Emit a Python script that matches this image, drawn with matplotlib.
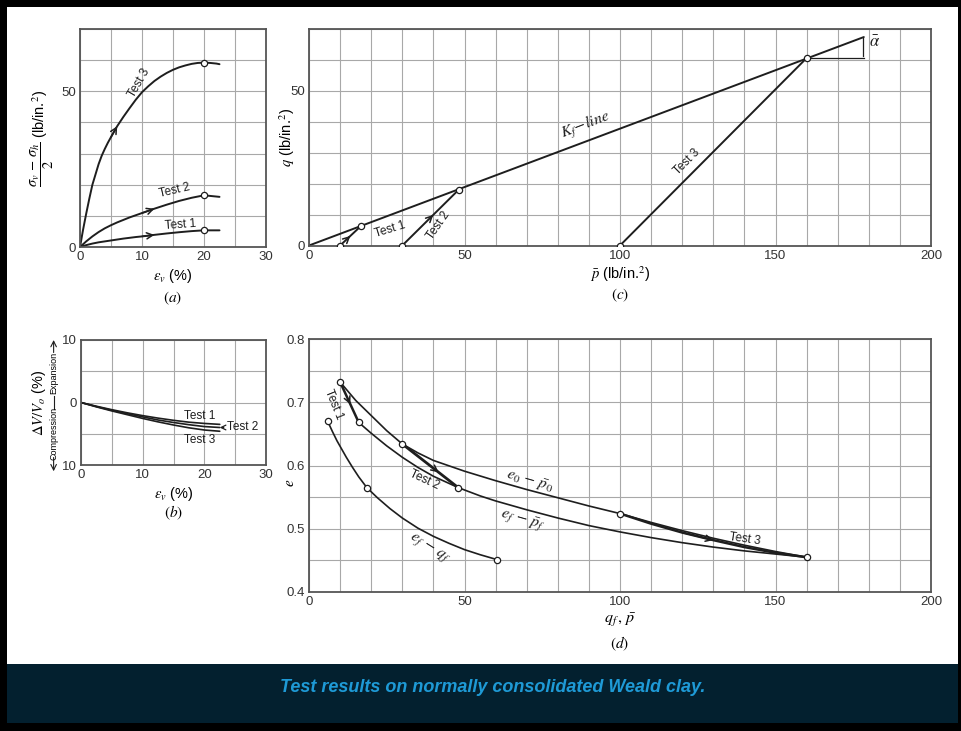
import matplotlib
matplotlib.use('Agg')
import matplotlib.pyplot as plt
from matplotlib.patches import Rectangle

plt.rcParams['font.family'] = ['Liberation Sans', 'DejaVu Sans']
plt.rcParams['mathtext.fontset'] = 'stix'

W, H = 961, 731
INK = '#1e1e1e'
GRID = '#a8a8a8'
FRAME = '#555555'

# ---- (a) stress vs strain
strain_a = [0, 1, 2, 3, 4, 5, 6, 7, 8, 9, 10, 12, 14, 16, 18, 20, 22.5]
stress_t1 = [0, 0.6, 1.1, 1.5, 1.8, 2.1, 2.4, 2.7, 2.95, 3.2, 3.4, 3.9, 4.35, 4.75, 5.1, 5.35, 5.35]
stress_t2 = [0, 1.8, 3.4, 4.8, 6.0, 7.0, 7.9, 8.7, 9.5, 10.2, 10.9, 12.3, 13.6, 14.8, 15.8, 16.6, 16.1]
strain_a3 = [0, 0.5, 1, 1.5, 2, 2.5, 3, 3.5, 4, 4.5, 5, 6, 7, 8, 9, 10, 11, 12, 13, 14,
             15, 16, 17, 18, 19, 20, 21, 22, 22.5]
stress_t3 = [0, 5.6, 10.7, 15.5, 20.0, 23.3, 26.6, 29.3, 31.5, 33.5, 35.3, 38.8, 41.8, 44.6,
             47.3, 49.7, 51.6, 53.3, 54.7, 55.9, 56.9, 57.7, 58.3, 58.8, 59.1, 59.2, 59.1,
             58.9, 58.7]
fail_strain_a = [20, 20, 20]
fail_stress_a = [5.35, 16.6, 59.2]

# ---- (b) volume change vs strain
strain_b = [0, 2.5, 5, 7.5, 10, 12.5, 15, 17.5, 20, 22.5]
dv_t1 = [0, -0.6, -1.15, -1.65, -2.1, -2.5, -2.85, -3.15, -3.35, -3.5]
dv_t2 = [0, -0.65, -1.25, -1.8, -2.3, -2.8, -3.2, -3.55, -3.85, -4.0]
dv_t3 = [0, -0.7, -1.35, -1.95, -2.55, -3.1, -3.6, -4.05, -4.4, -4.6]

# ---- (c) stress paths
kf_p = [0, 178.4]
kf_q = [0, 67.4]
path1_p = [10, 16.6]
path1_q = [0, 6.2]
path2_p = [30, 48.1]
path2_q = [0, 18.0]
path3_p = [100, 160.1]
path3_q = [0, 60.7]

# ---- (d) void ratio
e0_p = [10, 15, 20, 25, 30, 35, 40, 50, 60, 70, 80, 90, 100, 110, 120, 130, 140, 150, 160]
e0_e = [0.732, 0.703, 0.679, 0.655, 0.634, 0.620, 0.608, 0.591, 0.576, 0.562, 0.549,
        0.536, 0.524, 0.510, 0.497, 0.485, 0.474, 0.464, 0.455]
ef_p = [16, 20, 25, 30, 35, 40, 48, 55, 60, 70, 80, 90, 100, 110, 120, 130, 140, 150, 160]
ef_e = [0.668, 0.651, 0.631, 0.613, 0.597, 0.583, 0.565, 0.552, 0.544, 0.530, 0.517,
        0.505, 0.495, 0.486, 0.478, 0.471, 0.465, 0.460, 0.455]
efq_q = [6, 7.5, 9, 10.5, 12, 14, 16, 18.6, 22, 26, 30, 35, 40, 45, 50, 55, 60.6]
efq_e = [0.670, 0.654, 0.639, 0.626, 0.613, 0.597, 0.582, 0.565, 0.549, 0.532, 0.517,
         0.501, 0.488, 0.477, 0.467, 0.459, 0.451]
t1d_p = [10, 16]
t1d_e = [0.732, 0.668]
t2d_p = [30, 48]
t2d_e = [0.634, 0.565]
t3d_p = [100, 110, 120, 130, 140, 150, 160]
t3d_e = [0.524, 0.508, 0.494, 0.482, 0.471, 0.462, 0.455]
pts_d_x = [10, 16, 6, 30, 18.6, 48, 60.6, 100, 160]
pts_d_y = [0.732, 0.668, 0.670, 0.634, 0.565, 0.565, 0.451, 0.524, 0.455]


def px_axes(fig, left, top, right, bottom):
    return fig.add_axes([left / W, 1 - bottom / H, (right - left) / W, (bottom - top) / H])


def style(ax, xlim, ylim, xmaj, ymaj, xgrid, ygrid):
    ax.set_xlim(*xlim)
    ax.set_ylim(*ylim)
    ax.set_xticks(xmaj)
    ax.set_yticks(ymaj)
    ax.set_xticks(xgrid, minor=True)
    ax.set_yticks(ygrid, minor=True)
    ax.grid(which='both', color=GRID, lw=0.8)
    ax.set_axisbelow(True)
    ax.tick_params(which='both', length=0, labelsize=9.5, labelcolor='#333333', pad=3)
    for s in ax.spines.values():
        s.set_color(FRAME)
        s.set_linewidth(1.3)


def curve(ax, x, y, lw=1.4):
    ax.plot(x, y, color=INK, lw=lw, solid_capstyle='round', solid_joinstyle='round')


def dots(ax, x, y):
    ax.plot(x, y, 'o', ms=4.5, mfc='white', mec=INK, mew=0.9, ls='none', zorder=5)


def arrow_at(ax, x, y, i):
    ax.annotate('', xy=(x[i + 1], y[i + 1]), xytext=(x[i], y[i]),
                arrowprops=dict(arrowstyle='->', color=INK, lw=1.1,
                                shrinkA=0, shrinkB=0, mutation_scale=11))


def arrow_frac(ax, x, y, t):
    xa = x[0] + t * (x[1] - x[0])
    ya = y[0] + t * (y[1] - y[0])
    xb = x[0] + (t + 0.05) * (x[1] - x[0])
    yb = y[0] + (t + 0.05) * (y[1] - y[0])
    ax.annotate('', xy=(xb, yb), xytext=(xa, ya),
                arrowprops=dict(arrowstyle='->', color=INK, lw=1.1,
                                shrinkA=0, shrinkB=0, mutation_scale=11))


def lab(ax, x, y, s, rot=0, size=8.5, **kw):
    ax.text(x, y, s, rotation=rot, fontsize=size, color=INK, ha='center', va='center',
            rotation_mode='anchor', **kw)


fig = plt.figure(figsize=(W / 100, H / 100), dpi=100, facecolor='black')
fig.patches.append(Rectangle((7 / W, 1 - 664 / H), 951 / W, 657 / H, zorder=-10,
                             transform=fig.transFigure, facecolor='white', edgecolor='none'))
fig.patches.append(Rectangle((7 / W, 1 - 723 / H), 951 / W, 59 / H, zorder=-10,
                             transform=fig.transFigure, facecolor='#03202f', edgecolor='none'))
fig.text(493 / W, 1 - 688 / H, 'Test results on normally consolidated Weald clay.',
         ha='center', va='center', color='#1e9ad6', fontsize=13,
         fontweight='bold', style='italic')

# ---------- (a)
ax = px_axes(fig, 80, 29, 266, 247)
style(ax, (0, 30), (0, 70), [0, 10, 20, 30], [0, 50],
      range(0, 31, 5), range(0, 71, 10))
curve(ax, strain_a, stress_t1)
curve(ax, strain_a, stress_t2)
curve(ax, strain_a3, stress_t3)
dots(ax, fail_strain_a, fail_stress_a)
arrow_at(ax, strain_a3, stress_t3, strain_a3.index(5))
arrow_at(ax, strain_a, stress_t2, strain_a.index(10))
arrow_at(ax, strain_a, stress_t1, strain_a.index(10))
lab(ax, 9.6, 52.8, 'Test 3', 60)
lab(ax, 15.2, 18.2, 'Test 2', 13)
lab(ax, 16.2, 7.0, 'Test 1', 4)
ax.set_ylabel(r'$\dfrac{\sigma_v\,-\,\sigma_h}{2}$ (lb/in.$^2$)', fontsize=10.5, labelpad=4)
ax.set_xlabel(r'$\epsilon_v$ (%)', fontsize=10.5, labelpad=3)
ax.text(0.5, -0.235, r'$(a)$', transform=ax.transAxes, ha='center', va='center', fontsize=11)

# ---------- (b)
ax = px_axes(fig, 81, 340, 266, 465)
style(ax, (0, 30), (-10, 10), [0, 10, 20, 30], [-10, 0, 10],
      range(0, 31, 5), range(-10, 11, 5))
ax.set_yticklabels(['10', '0', '10'])
curve(ax, strain_b, dv_t1, 1.2)
curve(ax, strain_b, dv_t2, 1.2)
curve(ax, strain_b, dv_t3, 1.2)
lab(ax, 19.3, -2.1, 'Test 1', 0, 8.5)
lab(ax, 19.3, -6.0, 'Test 3', 0, 8.5)
ax.annotate('Test 2', xy=(strain_b[-1], dv_t2[-1]), xytext=(23.6, dv_t2[-1]),
            fontsize=8.5, color=INK, va='center', ha='left',
            arrowprops=dict(arrowstyle='->', color=INK, lw=0.9, shrinkA=0, shrinkB=0))
ax.set_xlabel(r'$\epsilon_v$ (%)', fontsize=10.5, labelpad=3)
ax.text(-0.225, 0.5, r'$\Delta V/V_o$ (%)', transform=ax.transAxes, rotation=90,
        ha='center', va='center', fontsize=10.5)
ax.text(-0.148, 0.74, 'Expansion', transform=ax.transAxes, rotation=90,
        ha='center', va='center', fontsize=6.5)
ax.text(-0.148, 0.255, 'Compression', transform=ax.transAxes, rotation=90,
        ha='center', va='center', fontsize=6.5)
ax.plot([-0.148, -0.148], [0.45, 0.55], transform=ax.transAxes, color=INK, lw=0.8, clip_on=False)
ax.annotate('', xy=(-0.148, 1.0), xytext=(-0.148, 0.9), xycoords='axes fraction',
            arrowprops=dict(arrowstyle='->', color=INK, lw=0.8, shrinkA=0, shrinkB=0))
ax.annotate('', xy=(-0.148, -0.05), xytext=(-0.148, 0.06), xycoords='axes fraction',
            arrowprops=dict(arrowstyle='->', color=INK, lw=0.8, shrinkA=0, shrinkB=0))
ax.text(0.5, -0.38, r'$(b)$', transform=ax.transAxes, ha='center', va='center', fontsize=11)

# ---------- (c)
ax = px_axes(fig, 309, 29, 931, 245.5)
style(ax, (0, 200), (0, 70), [0, 50, 100, 150, 200], [0, 50],
      range(0, 201, 10), range(0, 71, 10))
curve(ax, kf_p, kf_q)
for pp, qq in [(path1_p, path1_q), (path2_p, path2_q), (path3_p, path3_q)]:
    curve(ax, pp, qq)
    dots(ax, pp, qq)
arrow_frac(ax, path1_p, path1_q, 0.45)
arrow_frac(ax, path2_p, path2_q, 0.5)
ax.plot([path3_p[1], kf_p[1]], [path3_q[1], path3_q[1]], color=INK, lw=0.9)
ax.plot([kf_p[1] - 0.3, kf_p[1] - 0.3], [path3_q[1] + 0.6, kf_q[1] - 0.4], color=INK, lw=0.9)
lab(ax, 182, 65.5, r'$\bar{\alpha}$', 0, 12)
lab(ax, 89, 38.8, r'$K_f\!-\!\mathit{line}$', 21, 11.5)
lab(ax, 26, 5.0, 'Test 1', 17)
lab(ax, 41.5, 6.5, 'Test 2', 55)
lab(ax, 121.5, 27, 'Test 3', 45)
ax.set_ylabel(r'$q$ (lb/in.$^2$)', fontsize=10.5)
ax.yaxis.set_label_coords(-0.02, 0.5)
ax.set_xlabel(r'$\bar{p}$ (lb/in.$^2$)', fontsize=10.5, labelpad=2)
ax.text(0.5, -0.23, r'$(c)$', transform=ax.transAxes, ha='center', va='center', fontsize=11)

# ---------- (d)
ax = px_axes(fig, 309, 339, 931, 592)
style(ax, (0, 200), (0.4, 0.8), [0, 50, 100, 150, 200], [0.4, 0.5, 0.6, 0.7, 0.8],
      range(0, 201, 10), [0.4 + 0.05 * k for k in range(9)])
ax.set_yticklabels(['0.4', '0.5', '0.6', '0.7', '0.8'])
curve(ax, e0_p, e0_e, 1.2)
curve(ax, ef_p, ef_e, 1.2)
curve(ax, efq_q, efq_e, 1.2)
curve(ax, t1d_p, t1d_e, 1.8)
curve(ax, t2d_p, t2d_e, 2.0)
curve(ax, t3d_p, t3d_e, 1.8)
dots(ax, pts_d_x, pts_d_y)
arrow_frac(ax, t1d_p, t1d_e, 0.5)
arrow_frac(ax, t2d_p, t2d_e, 0.6)
arrow_at(ax, t3d_p, t3d_e, 2)
lab(ax, 8.0, 0.697, 'Test 1', -68)
lab(ax, 37, 0.578, 'Test 2', -25)
lab(ax, 140, 0.484, 'Test 3', -8)
lab(ax, 71, 0.575, r'$e_0\,-\,\bar{p}_0$', -16, 11.5)
lab(ax, 68.5, 0.512, r'$e_f\,-\,\bar{p}_f$', -16, 11.5)
lab(ax, 38.5, 0.468, r'$e_f\,-\,q_f$', -32, 11.5)
ax.set_ylabel(r'$e$', fontsize=11)
ax.yaxis.set_label_coords(-0.02, 0.43)
ax.set_xlabel(r'$q_f\,,\,\bar{p}$', fontsize=11.5, labelpad=2)
ax.text(0.5, -0.205, r'$(d)$', transform=ax.transAxes, ha='center', va='center', fontsize=11)

fig.savefig('out.png', dpi=100, facecolor=fig.get_facecolor())
